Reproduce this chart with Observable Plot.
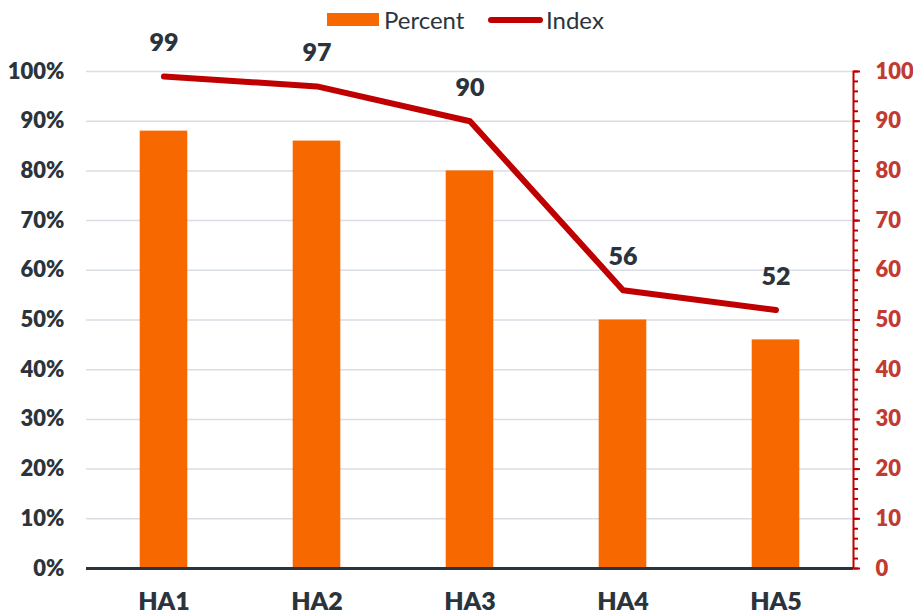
<!DOCTYPE html>
<html>
<head>
<meta charset="utf-8">
<script src="https://cdn.jsdelivr.net/npm/d3@7"></script>
<script src="https://cdn.jsdelivr.net/npm/@observablehq/plot@0.6"></script>
<style>
  html, body { margin: 0; padding: 0; background: #fff; }
  body { width: 913px; height: 614px; overflow: hidden; font-family: Lato, "Open Sans", sans-serif; }
  #legend { position: relative; height: 30px; width: 913px; }
  #legend .sw { position: absolute; }
  #legend .lab { position: absolute; top: 5px; font-size: 24px; color: #2b343d; line-height: 30px; }
</style>
</head>
<body>
<div id="legend">
  <div class="sw" style="left:327px;top:13px;width:52px;height:13px;background:#f76900"></div>
  <div class="lab" style="left:384px">Percent</div>
  <div class="sw" style="left:488px;top:17px;width:55px;height:6px;border-radius:3px;background:#c00000"></div>
  <div class="lab" style="left:546px">Index</div>
</div>
<div id="chart"></div>
<script>
const categories = ["HA1", "HA2", "HA3", "HA4", "HA5"];
const percentValues = [88, 86, 80, 50, 46];
const indexValues = [99, 97, 90, 56, 52];
const leftTicks = d3.range(0, 101, 10);
const rightMinorTicks = d3.range(0, 101, 2);

const data = categories.map((c, i) => ({cat: c, pct: percentValues[i], idx: indexValues[i]}));

const dark = "#2b343d";
const red = "#c00000";
const redText = "#c23b33";

const chart = Plot.plot({
  width: 913,
  height: 584,
  marginTop: 41,
  marginBottom: 46,
  marginLeft: 86,
  marginRight: 60,
  style: {fontFamily: "Lato, 'Open Sans', sans-serif", background: "#fff", overflow: "visible"},
  x: {domain: categories, padding: 0, label: null},
  y: {domain: [0, 100], label: null},
  marks: [
    Plot.gridY(leftTicks.filter(d => d > 0), {stroke: "#d9dee4", strokeOpacity: 1, strokeWidth: 1.5}),
    Plot.barY(data, {x: "cat", y: "pct", fill: "#f76900", insetLeft: 52.7, insetRight: 52.7}),
    Plot.ruleY([0], {stroke: dark, strokeWidth: 3}),
    Plot.line(data, {x: "cat", y: "idx", stroke: red, strokeWidth: 6, strokeLinecap: "round", strokeLinejoin: "round"}),
    Plot.text(data, {x: "cat", y: "idx", text: d => String(d.idx), dy: -33, fill: dark, fontSize: 25, fontWeight: 800}),
    Plot.axisY({anchor: "left", ticks: leftTicks, tickSize: 0, tickPadding: 22, tickFormat: d => d + "%", fontSize: 22, fontWeight: 800, fill: dark, label: null}),
    Plot.axisY({anchor: "right", ticks: rightMinorTicks, tickSize: 4, stroke: red, strokeWidth: 2, text: null, label: null}),
    Plot.axisY({anchor: "right", ticks: leftTicks, tickSize: 6, tickPadding: 16, stroke: red, strokeWidth: 2, fill: redText, fontSize: 22, fontWeight: 800, label: null}),
    Plot.frame({anchor: "right", stroke: red, strokeWidth: 2}),
    Plot.axisX({anchor: "bottom", tickSize: 0, tickPadding: 24, fontSize: 25, fontWeight: 800, fill: dark, label: null})
  ]
});
document.getElementById("chart").appendChild(chart);
</script>
</body>
</html>
